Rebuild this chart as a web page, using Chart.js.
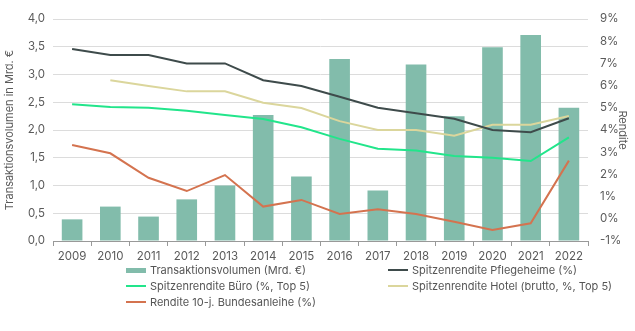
<!DOCTYPE html>
<html><head><meta charset="utf-8">
<script src="https://cdn.jsdelivr.net/npm/chart.js@4"></script>
<style>
html,body{margin:0;padding:0;background:#fff;}
#wrap{position:relative;width:635px;height:331px;}
#legend{position:absolute;left:126px;top:263px;width:509px;font-family:Inter,"Open Sans",sans-serif;font-size:11px;color:#555;}
.item{position:absolute;display:flex;align-items:center;white-space:nowrap;height:14px;}
.sw{width:20px;margin-right:4px;}
</style></head>
<body>
<div id="wrap"><canvas id="c" width="635" height="331"></canvas><div id="legend"></div></div>
<script>
const years = ['2009','2010','2011','2012','2013','2014','2015','2016','2017','2018','2019','2020','2021','2022'];
const volumen = [0.39,0.62,0.44,0.75,1.00,2.27,1.16,3.28,0.91,3.18,2.25,3.49,3.71,2.40];
const pflege = [7.65,7.38,7.38,7.0,7.0,6.24,5.98,5.5,5.0,4.75,4.51,4.0,3.9,4.53];
const buero = [5.16,5.04,5.0,4.87,4.68,4.5,4.12,3.6,3.16,3.08,2.83,2.75,2.6,3.67];
const hotel = [null,6.24,5.98,5.74,5.74,5.23,4.99,4.4,4.0,4.0,3.74,4.24,4.24,4.63];
const bund = [3.32,2.95,1.85,1.25,1.97,0.55,0.85,0.22,0.43,0.22,-0.13,-0.5,-0.2,2.62];
const leftTicks = [0,0.5,1,1.5,2,2.5,3,3.5,4];
const rightTicks = [-1,0,1,2,3,4,5,6,7,8,9];

const FONT = 'Inter, "Open Sans", sans-serif';
const GREY = '#5a5a5a';
const colors = {bar:'#82bcab', pflege:'#3e4b4b', buero:'#22e58b', hotel:'#dbd69c', bund:'#d4734f'};

const data = {
  labels: years,
  datasets: [
    {type:'bar', label:'Transaktionsvolumen (Mrd. €)', data:volumen, backgroundColor:colors.bar, yAxisID:'y', order:2, barPercentage:0.54, categoryPercentage:1},
    {type:'line', label:'Spitzenrendite Pflegeheime (%)', data:pflege, borderColor:colors.pflege, yAxisID:'y1', order:1, borderWidth:2, pointRadius:0, tension:0},
    {type:'line', label:'Spitzenrendite Büro (%, Top 5)', data:buero, borderColor:colors.buero, yAxisID:'y1', order:1, borderWidth:2, pointRadius:0, tension:0},
    {type:'line', label:'Spitzenrendite Hotel (brutto, %, Top 5)', data:hotel, borderColor:colors.hotel, yAxisID:'y1', order:1, borderWidth:2, pointRadius:0, tension:0},
    {type:'line', label:'Rendite 10-j. Bundesanleihe (%)', data:bund, borderColor:colors.bund, yAxisID:'y1', order:1, borderWidth:2, pointRadius:0, tension:0}
  ]
};

new Chart(document.getElementById('c'), {
  data,
  options: {
    responsive:false, animation:false,
    layout:{padding:{top:19,bottom:0,left:0,right:0}},
    plugins:{legend:{display:false}, tooltip:{enabled:false}},
    scales:{
      x:{
        offset:true,
        grid:{offset:true, drawOnChartArea:false, drawTicks:true, tickLength:5, color:'#999'},
        border:{display:true, color:'#999', width:1},
        ticks:{color:GREY, font:{family:FONT, size:11.5}, padding:4, maxRotation:0},
        afterFit(s){ s.height = 90; }
      },
      y:{
        position:'left', min:0, max:4,
        afterBuildTicks(s){ s.ticks = leftTicks.map(v=>({value:v})); },
        ticks:{color:GREY, font:{family:FONT, size:11.5}, padding:8, callback:v=>v.toFixed(1).replace('.',',')},
        grid:{color:'#dcdcdc', drawTicks:false},
        border:{display:false},
        title:{display:true, text:'Transaktionsvolumen in Mrd. €', color:GREY, font:{family:FONT, size:11}, padding:{top:3,bottom:4}},
        afterFit(s){ s.width = 53; }
      },
      y1:{
        position:'right', min:-1, max:9,
        afterBuildTicks(s){ s.ticks = rightTicks.map(v=>({value:v})); },
        ticks:{color:GREY, font:{family:FONT, size:11.5}, padding:12, callback:v=>v+'%'},
        grid:{drawOnChartArea:false, drawTicks:false},
        border:{display:false},
        title:{display:true, text:'Rendite', color:GREY, font:{family:FONT, size:11}, padding:{top:6,bottom:4}},
        afterFit(s){ s.width = 47; }
      }
    }
  }
});

// HTML legend
const leg = document.getElementById('legend');
const items = [
  {ds:0, x:0, y:0, kind:'box'},
  {ds:1, x:262, y:0, kind:'line'},
  {ds:2, x:0, y:16, kind:'line'},
  {ds:3, x:262, y:16, kind:'line'},
  {ds:4, x:0, y:32, kind:'line'}
];
items.forEach(it=>{
  const ds = data.datasets[it.ds];
  const d = document.createElement('div');
  d.className='item'; d.style.left=it.x+'px'; d.style.top=it.y+'px';
  const sw = document.createElement('span'); sw.className='sw';
  sw.style.height = it.kind==='box' ? '5px' : '2.5px';
  sw.style.background = it.kind==='box' ? ds.backgroundColor : ds.borderColor;
  const t = document.createElement('span'); t.textContent = ds.label;
  d.appendChild(sw); d.appendChild(t); leg.appendChild(d);
});
</script>
</body></html>
